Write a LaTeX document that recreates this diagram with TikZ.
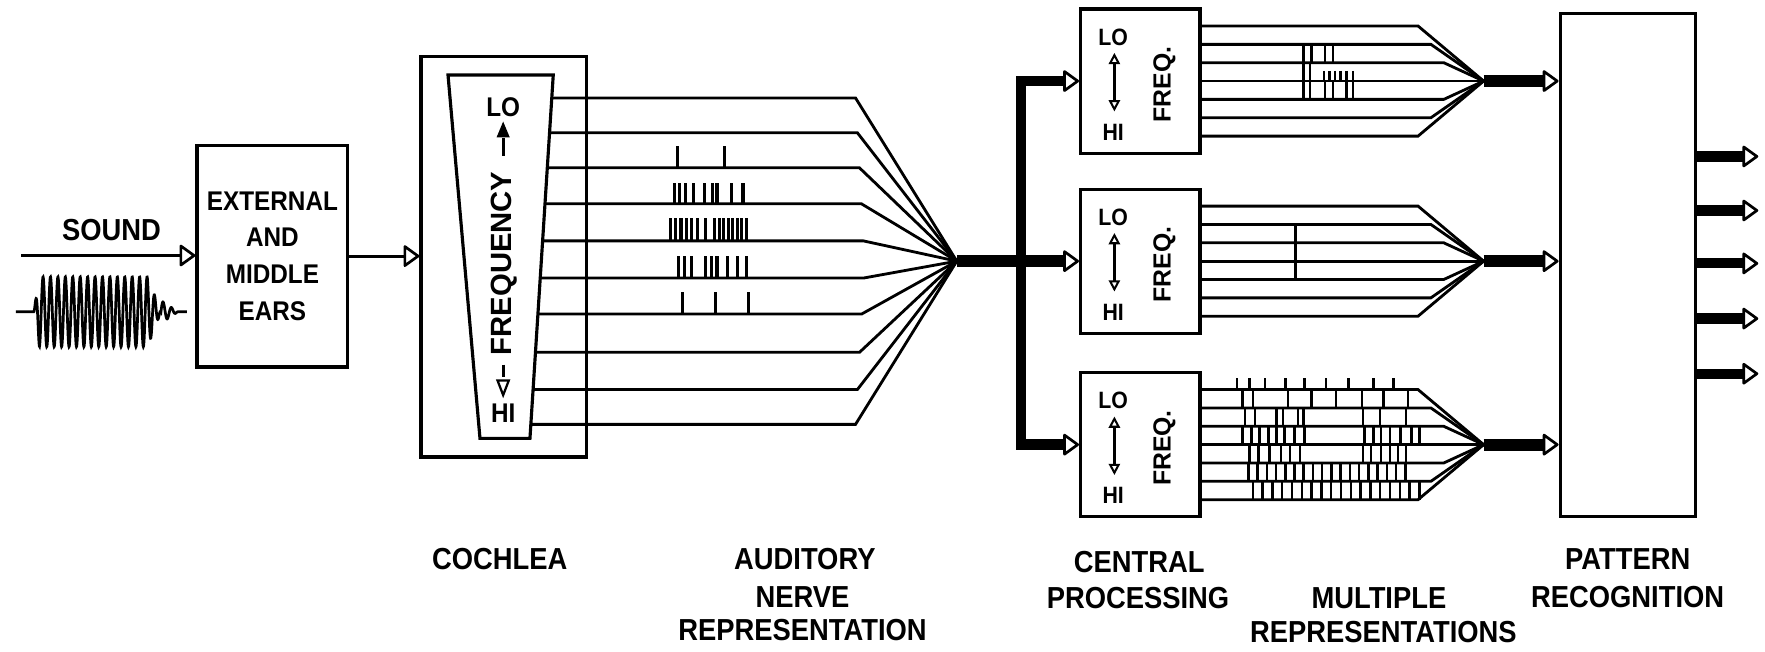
\documentclass[tikz,border=0pt]{standalone}
\usepackage{fontspec}
\newfontfamily\lett{Liberation Sans}[FakeStretch=0.9]
\newfontfamily\lettw{Liberation Sans}
\usetikzlibrary{arrows.meta,calc}
\begin{document}
\begin{tikzpicture}[x=1pt,y=-1pt,line join=miter,
 >={Triangle[open,round,length=15pt,width=21pt,line width=2.4pt]},
 box/.style={draw,line width=2.8pt,inner sep=0pt,fill=white},
 lab/.style={inner sep=0pt,anchor=base,font=\lett\bfseries\fontsize{27}{30}\selectfont},
 boxtxt/.style={inner sep=0pt,anchor=base,font=\lett\bfseries\fontsize{21}{24}\selectfont},
 rottxt/.style={inner sep=0pt,rotate=90,font=\lettw\bfseries\fontsize{22}{24}\selectfont},
 fiber/.style={line width=2.5pt},
 spike/.style={line width=2.8pt},
 tickm/.style={line width=2.2pt},
 bar/.style={line width=10.5pt},
 obar/.style={line width=9pt},
 wave/.style={line width=2.4pt},
 conn/.style={line width=2.7pt}
]
\useasboundingbox (0,0) rectangle (1568,579);
\fill[white] (0,0) rectangle (1568,579);

% ---- sound and ears
\node[lab] (sound) at (99,214) {SOUND};
\node[box,minimum width=134,minimum height=197,align=center,
      font=\lett\bfseries\fontsize{24}{32.7}\selectfont] (ear) at (242,227.5)
      {EXTERNAL\\AND\\MIDDLE\\EARS};
\coordinate (sndL) at (19,227);
\draw[conn,->] (sndL) -- (sndL -| ear.west);
\draw[wave] (14,277) -- (30,277)
  -- plot[domain=30:143,samples=600] (\x,{277-31*min(1,(\x-30)/5)*min(1,(143-\x)/12)*sin((\x-30)*54.545)})
  -- plot[domain=143:158,samples=80] (\x,{277-10*sin((\x-143)*48)*(158-\x)/15})
  -- (166,277);

% ---- cochlea
\node[box,minimum width=147,minimum height=356] (coch) at (447.5,228) {};
\draw[conn,->] (ear.east) -- (ear.east -| coch.west);
\draw[line width=2.8pt] (398,66.6) -- (491.5,66.6) -- (470.8,389.4) -- (426.4,389.4) -- cycle;
\node[boxtxt,font=\lett\bfseries\fontsize{24}{26}\selectfont] (clo) at (447,103.4) {LO};
\filldraw[line width=1.2pt] (447,109.5) -- (452,121.5) -- (442,121.5) -- cycle;
\draw[line width=2.6pt] (447,123) -- (447,139);
\node[rottxt,font=\lettw\bfseries\fontsize{26}{28}\selectfont] (cfreq) at (448,234) {FREQUENCY};
\draw[line width=2.6pt] (447,324) -- (447,334.5);
\draw[line width=2pt] (447,351) -- (452,338) -- (442,338) -- cycle;
\node[boxtxt,font=\lett\bfseries\fontsize{24}{26}\selectfont] (chi) at (447,375.6) {HI};

% ---- auditory nerve fibres
\coordinate (conv) at (850,232);
\foreach \y in {87,118,149,181,214,247,279,313,346,377}
  \draw[fiber] ({491.5-(\y-66.6)*0.06413},\y) -- ({768-0.055*abs(\y-232)},\y) -- (conv);
\foreach \x in {602,644} \draw[spike] (\x,149) -- ++(0,-19);
\foreach \x in {599,604,609,616,626,633,637,650,660} \draw[spike] (\x,181) -- ++(0,-18);
\foreach \x in {596,600,605,610,614,620,627,635,639,643,647,651,655,659,663} \draw[spike] (\x,214) -- ++(0,-20);
\foreach \x in {603,608,614,627,632,637,646,655,663} \draw[spike] (\x,247) -- ++(0,-20);
\foreach \x in {606,636,665} \draw[spike] (\x,279) -- ++(0,-20);

% ---- central processing boxes
\node[box,minimum width=106,minimum height=128] (cp1) at (1013,72) {};
\node[box,minimum width=106,minimum height=128] (cp2) at (1013,232) {};
\node[box,minimum width=106,minimum height=128] (cp3) at (1013,395) {};
\foreach \k/\cy in {1/72,2/232,3/395}{
  \node[boxtxt] (lo\k) at (989,\cy-32) {LO};
  \node[boxtxt] (hi\k) at (989,\cy+52.5) {HI};
  \node[rottxt] (fq\k) at (1034.5,\cy+3) {FREQ.};
  \draw[line width=2.4pt,{Triangle[open,length=10pt,width=10pt,line width=1.8pt]}-{Triangle[open,length=10pt,width=10pt,line width=1.8pt]}]
    (990,\cy-25) -- (990,\cy+27);
}
\coordinate (busT) at (907,72);
\coordinate (busB) at (907,395);
\draw[line width=9.5pt,line cap=rect] (busT) -- (busB);
\draw[line width=9.5pt,->] (busT) -- (cp1.west);
\draw[line width=9.5pt,->] (busB) -- (cp3.west);
\draw[bar,->] (conv) -- (conv -| cp2.west);

% ---- pattern recognition
\node[box,minimum width=120,minimum height=447] (pat) at (1446,235.5) {};

% ---- multiple representations
\foreach \k/\cy in {1/72,2/232,3/395}{
  \coordinate (g\k) at (1318,\cy);
  \foreach \j in {-3,...,3}{
    \pgfmathsetmacro\dy{16.3*\j}
    \draw[fiber] ($(cp\k.east)+(0,\dy)$) -- ({1294-0.7*abs(\dy)},{\cy+\dy}) -- (g\k);
  }
  \draw[bar,->] (g\k) -- (g\k -| pat.west);
}
% top group spikes
\foreach \x in {1158,1165,1177,1184} \draw[tickm] (\x,39.4) -- (\x,55.7);
\foreach \x in {1158,1164} \draw[tickm] (\x,55.7) -- (\x,72);
\foreach \x in {1176,1181,1186,1191,1196,1202} \draw[tickm] (\x,63) -- (\x,72);
\foreach \x in {1158,1164,1177,1184,1196,1202} \draw[tickm] (\x,72) -- (\x,88.3);
% middle group spike
\draw[tickm] (1151,199.4) -- (1151,248.3);
% bottom group spikes
\foreach \x in {1099,1110,1124,1142,1159,1178,1198,1220,1238} \draw[tickm] (\x,346.1) -- ++(0,-10);
\foreach \x in {1104,1113,1144,1165,1187,1210,1229,1251} \draw[tickm] (\x,346.1) -- (\x,362.4);
\foreach \x in {1106,1115,1134,1140,1153,1158,1211,1226,1249} \draw[tickm] (\x,362.4) -- (\x,378.7);
\foreach \x in {1104,1112,1119,1127,1134,1141,1150,1159,1212,1220,1227,1235,1244,1254,1261} \draw[tickm] (\x,378.7) -- (\x,395);
\foreach \x in {1110,1118,1128,1138,1146,1155,1211,1218,1227,1235,1242,1249} \draw[tickm] (\x,395) -- (\x,411.3);
\foreach \i in {0,...,17} \draw[tickm] ({1109+8.2*\i},411.3) -- ({1109+8.2*\i},427.6);
\foreach \i in {0,...,17} \draw[tickm] ({1113+8.7*\i},427.6) -- ({1113+8.7*\i},443.9);

% ---- outputs
\foreach \k/\y in {1/139,2/187,3/234,4/283,5/332}{
  \coordinate (o\k) at (1562,\y);
  \draw[obar,->] (pat.east |- o\k) -- (o\k);
}

% ---- labels
\node[lab] (lcoch) at (444,506) {COCHLEA};
\node[lab] (laud1) at (715,506) {AUDITORY};
\node[lab] (laud2) at (713,540) {NERVE};
\node[lab] (laud3) at (713,569) {REPRESENTATION};
\node[lab] (lcen1) at (1012,509) {CENTRAL};
\node[lab] (lcen2) at (1011,541) {PROCESSING};
\node[lab] (lmul1) at (1225,541) {MULTIPLE};
\node[lab] (lmul2) at (1229,571) {REPRESENTATIONS};
\node[lab] (lpat1) at (1446,506) {PATTERN};
\node[lab] (lpat2) at (1446,540) {RECOGNITION};
\end{tikzpicture}
\end{document}
